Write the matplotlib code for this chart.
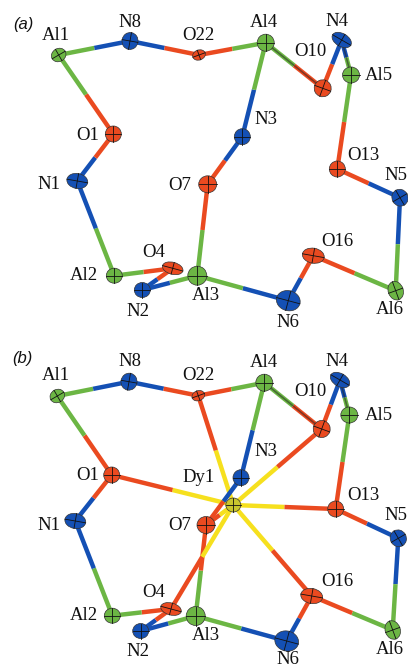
import numpy as np
import matplotlib.pyplot as plt
from matplotlib.patches import Ellipse

names = ['Al1', 'N8', 'O22', 'Al4', 'N4', 'O10', 'Al5', 'O1', 'N1', 'N3', 'O7',
         'O13', 'N5', 'Al2', 'O4', 'N2', 'Al3', 'N6', 'O16', 'Al6']

# atom centres, in pixels
xa = [58.7, 130, 199, 265.7, 341.7, 322.7, 351, 113.3, 77.3, 242.3, 207.7,
      337.3, 400, 114.3, 172.7, 142.3, 197.3, 288.3, 313.3, 395.7]
ya = [55, 41, 55, 42.7, 40, 88.3, 75, 134, 181, 136.7, 184.3,
      169, 197.7, 275.7, 268.3, 290, 275.7, 300.7, 255.7, 290.7]
xb = [57.3, 129, 198.3, 264.3, 340, 321.7, 349.3, 111.7, 75.3, 241, 206,
      335.7, 398.3, 112.3, 171, 140.7, 195.7, 286.7, 311.7, 392.7]
yb = [396, 381.7, 395.7, 382.7, 380, 429, 415, 475, 521, 477.7, 525,
      509, 538.3, 615.7, 609, 631, 616, 641, 596, 630]
dy_pos = (233.3, 505)

# ellipsoid outline: width, height, tilt
widths = [15, 16, 13, 17, 21, 17, 17, 16, 21, 16, 18, 16, 16, 16, 21, 16, 19, 24, 22, 15]
heights = [13, 17, 10, 17, 13, 17, 16, 16, 15, 16, 17, 16, 17, 15, 12, 15, 19, 20, 15, 19]
tilts = [-30, 10, -20, 0, 30, 20, 0, 0, 10, 0, 0, 0, -30, 0, 15, 0, 0, 15, 10, -20]

bonds = [('Al1', 'N8'), ('N8', 'O22'), ('O22', 'Al4'), ('Al4', 'O10'), ('O10', 'N4'),
         ('N4', 'Al5'), ('Al5', 'O13'), ('O13', 'N5'), ('N5', 'Al6'), ('Al6', 'O16'),
         ('O16', 'N6'), ('N6', 'Al3'), ('Al3', 'O7'), ('O7', 'N3'), ('N3', 'Al4'),
         ('Al3', 'N2'), ('N2', 'O4'), ('O4', 'Al2'), ('Al2', 'N1'), ('N1', 'O1'), ('O1', 'Al1')]
dy_bonds = ['O22', 'O1', 'O10', 'O13', 'O16', 'O4', 'O7']

# label centres
lxa = [55.7, 130, 198.7, 264.3, 336.7, 310, 379.3, 87.3, 49.3, 265.7, 180,
       363.3, 395.5, 84, 154, 137.7, 205.7, 287.7, 337.3, 390]
lya = [36, 22.7, 36, 22.7, 21.7, 51.7, 76, 136, 184.3, 120, 185,
       155.7, 175.7, 275, 252.7, 311.7, 295, 322.3, 241, 309.3]
lxb = [55.7, 130, 198.7, 264.3, 336.7, 310, 379.3, 87.3, 49.3, 265.7, 180,
       363.3, 395.5, 84, 154, 137.7, 205.7, 287.7, 337.3, 390]
lyb = [376, 361.7, 376, 362.3, 361.7, 391, 415.7, 476, 525, 451, 525,
       495, 516, 616, 592.3, 651.7, 635, 659, 581, 649.3]
dy_label = (199, 477.3)

panel_tags = ['(a)', '(b)']
tag_x = [23, 22]
tag_y = [25, 359]

colors = {'Al': '#6cb644', 'N': '#1450b4', 'O': '#ea4a20', 'Dy': '#f6e01e'}
dark_bonds = [('N4', 'Al5'), ('Al4', 'O10')]

fig = plt.figure(figsize=(4.08, 6.68), dpi=100)
ax = fig.add_axes([0, 0, 1, 1])
ax.set_xlim(0, 408)
ax.set_ylim(668, 0)
ax.axis('off')


def element(name):
    return name.rstrip('0123456789')


def draw_bond(p, q, c1, c2, z, dark=False):
    mid = ((p[0] + q[0]) / 2, (p[1] + q[1]) / 2)
    ax.plot([p[0], mid[0]], [p[1], mid[1]], color=c1, lw=3.2, solid_capstyle='butt', zorder=z)
    ax.plot([mid[0], q[0]], [mid[1], q[1]], color=c2, lw=3.2, solid_capstyle='butt', zorder=z)
    if dark:
        ax.plot([p[0], q[0]], [p[1], q[1]], color='#222222', lw=1.2, alpha=0.5, zorder=z)


def draw_atom(x, y, w, h, tilt, color, z):
    ax.add_patch(Ellipse((x, y), w, h, angle=tilt, fc=color, ec='#333333', lw=0.5, zorder=z))
    ct, st = np.cos(np.radians(tilt)), np.sin(np.radians(tilt))
    ax.plot([x - w / 2 * ct, x + w / 2 * ct], [y - w / 2 * st, y + w / 2 * st],
            color='#111111', lw=0.6, zorder=z + 0.1)
    ax.plot([x + h / 2 * st, x - h / 2 * st], [y - h / 2 * ct, y + h / 2 * ct],
            color='#111111', lw=0.6, zorder=z + 0.1)


def draw_panel(xs, ys, lxs, lys, with_dy):
    pos = dict(zip(names, zip(xs, ys)))
    if with_dy:
        for n in dy_bonds:
            draw_bond(dy_pos, pos[n], colors['Dy'], colors['O'], 3)
        draw_atom(dy_pos[0], dy_pos[1], 15, 14, 0, '#c9c62e', 3.5)
    for n1, n2 in bonds:
        z = 2
        if with_dy and (n1, n2) == ('O7', 'N3'):
            z = 4
        draw_bond(pos[n1], pos[n2], colors[element(n1)], colors[element(n2)], z,
                  (n1, n2) in dark_bonds)
    for n, w, h, t in zip(names, widths, heights, tilts):
        draw_atom(pos[n][0], pos[n][1], w, h, t, colors[element(n)], 5)
    for n, lx, ly in zip(names, lxs, lys):
        ax.text(lx, ly, n, family='Liberation Serif', fontsize=13.5, ha='center', va='center',
                color='#111111', zorder=6)


draw_panel(xa, ya, lxa, lya, False)
draw_panel(xb, yb, lxb, lyb, True)
ax.text(dy_label[0], dy_label[1], 'Dy1', family='Liberation Serif', fontsize=13.5,
        ha='center', va='center', color='#111111', zorder=6)

for tag, x, y in zip(panel_tags, tag_x, tag_y):
    ax.text(x, y, tag, family='Liberation Sans', fontsize=12, style='italic',
            ha='center', va='center', color='#111111')

fig.savefig('out.png', dpi=100)
